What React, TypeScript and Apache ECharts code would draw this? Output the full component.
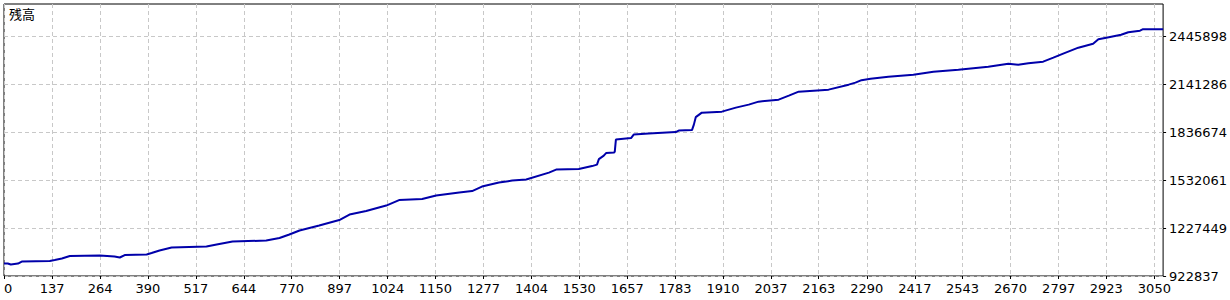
import React, { useEffect, useRef } from "react";
import * as echarts from "echarts";

// Trade numbers (x) and balance values (y)
const trades = [
  10, 20, 28, 47, 57, 131, 144, 163, 184, 263, 302, 316, 329, 387, 400, 421, 453, 545, 572, 614,
  703, 738, 764, 791, 843, 896, 923, 967, 1020, 1054, 1115, 1152, 1213, 1247, 1273, 1318, 1353, 1390,
  1450, 1469, 1529, 1564, 1577, 1582, 1595, 1601, 1622, 1624, 1627, 1667, 1674, 1714, 1785, 1793,
  1828, 1833, 1838, 1854, 1907, 1944, 1978, 2004, 2057, 2084, 2110, 2189, 2242, 2260, 2276, 2300,
  2347, 2413, 2466, 2532, 2611, 2664, 2690, 2717, 2756, 2783, 2809, 2849, 2888, 2902, 2923, 2962,
  2981, 3012, 3020, 3073,
];
const balances = [
  1002328, 1002328, 995969, 1002328, 1015047, 1018227, 1024586, 1034125, 1050023, 1053203, 1046843,
  1040484, 1056382, 1059562, 1069101, 1084999, 1104077, 1110436, 1123155, 1142233, 1148592, 1164490,
  1186748, 1212185, 1243982, 1278958, 1313934, 1336192, 1371168, 1406144, 1412503, 1434761, 1453839,
  1463378, 1491994, 1517432, 1530150, 1536509, 1581025, 1600102, 1603282, 1622360, 1631899, 1666875,
  1689133, 1705031, 1708211, 1714570, 1790881, 1800420, 1822678, 1829037, 1838576, 1848115, 1851295,
  1886271, 1933966, 1962583, 1968942, 1994379, 2013457, 2032535, 2045253, 2070691, 2096128, 2108846,
  2140643, 2153362, 2169260, 2178799, 2191517, 2204236, 2223314, 2236032, 2255110, 2274188, 2267829,
  2277368, 2286907, 2312344, 2337781, 2375937, 2401374, 2429991, 2439530, 2458608, 2474506, 2484045,
  2493584, 2493584,
];

const X_MIN = 10;
const X_MAX = 3073;
const xTickValues = [
  X_MIN, 137, 264, 390, 517, 644, 770, 897, 1024, 1150, 1277, 1404, 1530, 1657, 1783, 1910, 2037,
  2163, 2290, 2417, 2543, 2670, 2797, 2923, 3050,
];
const xTickLabels = [
  "0", "137", "264", "390", "517", "644", "770", "897", "1024", "1150", "1277", "1404", "1530",
  "1657", "1783", "1910", "2037", "2163", "2290", "2417", "2543", "2670", "2797", "2923", "3050",
];

const Y_MIN = 922837;
const Y_MAX = 2654000;
const yTickValues = [922837, 1227449, 1532061, 1836674, 2141286, 2445898];
const yTickLabels = ["922837", "1227449", "1532061", "1836674", "2141286", "2445898"];

const title = "残高";

export default function App() {
  const ref = useRef<HTMLDivElement>(null);

  useEffect(() => {
    if (!ref.current) return;
    const chart = echarts.init(ref.current, null, { renderer: "svg" });
    const font = "DejaVu Sans";
    chart.setOption({
      animation: false,
      backgroundColor: "#ffffff",
      textStyle: { fontFamily: font },
      grid: {
        left: 4,
        top: 4,
        width: 1161,
        height: 272,
        show: true,
        borderColor: "#000000",
        borderWidth: 1,
        backgroundColor: "#ffffff",
        containLabel: false,
      },
      graphic: [
        {
          type: "text",
          left: 9,
          top: 7,
          z: 100,
          style: {
            text: title,
            fill: "#000000",
            font: '13px "Noto Sans CJK JP"',
          },
        },
      ],
      xAxis: {
        type: "value",
        min: X_MIN,
        max: X_MAX,
        axisLine: { show: false },
        axisTick: {
          show: true,
          length: 3,
          customValues: xTickValues,
          lineStyle: { color: "#000000" },
        },
        axisLabel: {
          customValues: xTickValues,
          margin: 6,
          color: "#000000",
          fontFamily: font,
          fontSize: 13,
          alignMinLabel: "left",
          formatter: (v: number) => {
            const i = xTickValues.indexOf(v);
            return i >= 0 ? xTickLabels[i] : "";
          },
        },
        splitLine: {
          show: true,
          lineStyle: { color: "#c8c8c8", type: [4, 3], width: 1 },
        },
      },
      yAxis: {
        type: "value",
        position: "right",
        min: Y_MIN,
        max: Y_MAX,
        axisLine: { show: false },
        axisTick: {
          show: true,
          length: 3,
          customValues: yTickValues,
          lineStyle: { color: "#000000" },
        },
        axisLabel: {
          customValues: yTickValues,
          margin: 6,
          color: "#000000",
          fontFamily: font,
          fontSize: 13,
          formatter: (v: number) => {
            const i = yTickValues.indexOf(v);
            return i >= 0 ? yTickLabels[i] : "";
          },
        },
        splitLine: {
          show: true,
          lineStyle: { color: "#c8c8c8", type: [4, 3], width: 1 },
        },
      },
      series: [
        {
          type: "line",
          data: trades.map((t, i) => [t, balances[i]]),
          showSymbol: false,
          symbol: "none",
          lineStyle: { color: "#0000aa", width: 2 },
          itemStyle: { color: "#0000aa" },
          z: 5,
        },
      ],
    });
    return () => chart.dispose();
  }, []);

  return (
    <div
      ref={ref}
      style={{ position: "fixed", left: 0, top: 0, width: 1230, height: 300, background: "#fff" }}
    />
  );
}
